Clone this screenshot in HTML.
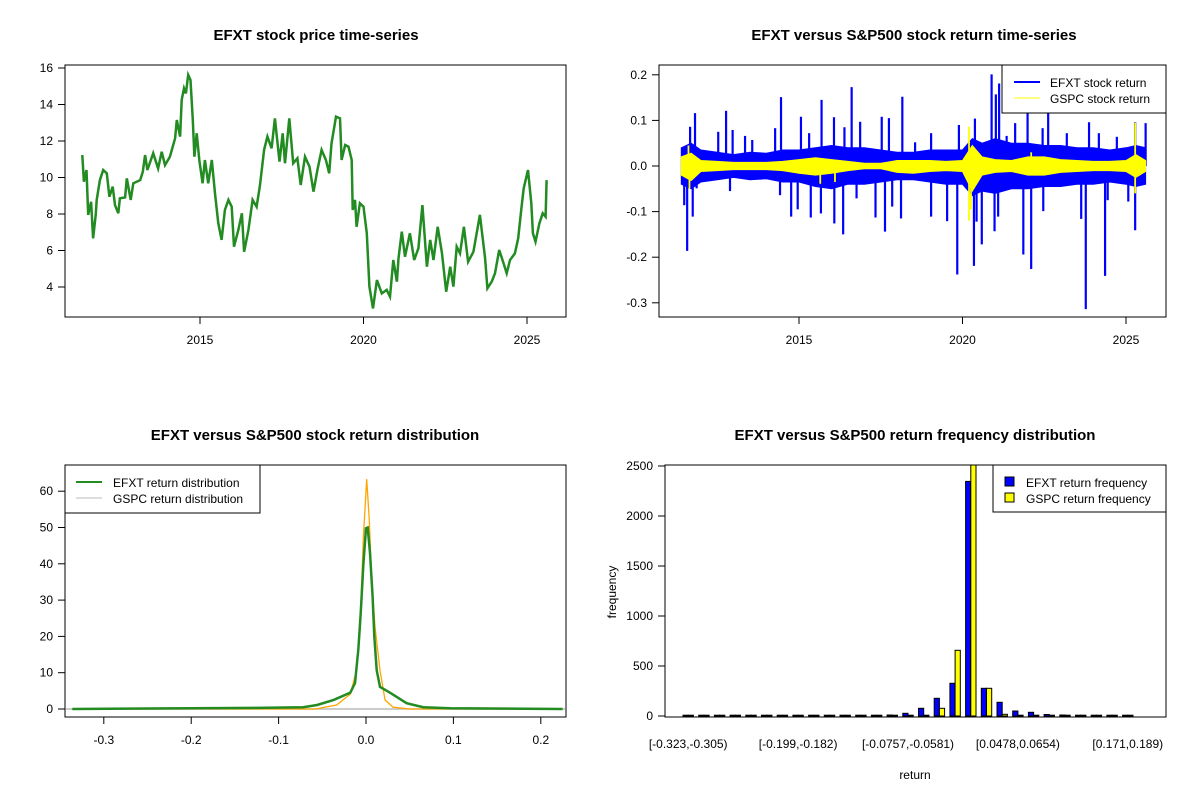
<!DOCTYPE html>
<html><head><meta charset="utf-8"><style>
html,body{margin:0;padding:0;background:#fff;}
svg{display:block;font-family:"Liberation Sans",Arial,sans-serif;}
.t{font-weight:bold;font-size:15px;text-anchor:middle;}
.tk{font-size:12px;}
</style></head><body>
<svg id="c" width="1200" height="800" viewBox="0 0 1200 800">
<rect width="1200" height="800" fill="#fff"/>
<text class="t" x="316" y="40">EFXT stock price time-series</text>
<text class="t" x="914" y="40">EFXT versus S&amp;P500 stock return time-series</text>
<text class="t" x="315" y="440">EFXT versus S&amp;P500 stock return distribution</text>
<text class="t" x="915" y="440">EFXT versus S&amp;P500 return frequency distribution</text>
<text class="tk" x="915" y="779" text-anchor="middle">return</text>
<text class="tk" x="616" y="592" text-anchor="middle" transform="rotate(-90 616 592)">frequency</text>
<g id="p1"></g>
<g id="p2"></g>
<g id="p3"></g>
<g id="p4"></g>
</svg>
<script>
// ---- price data ----
const priceYears=[2011.40,2011.45,2011.53,2011.58,2011.67,2011.73,2011.81,2011.84,2011.94,2012.04,2012.15,2012.23,2012.33,2012.40,2012.50,2012.55,2012.71,2012.76,2012.88,2012.96,2013.17,2013.25,2013.32,2013.39,2013.57,2013.72,2013.83,2013.93,2014.08,2014.24,2014.29,2014.39,2014.44,2014.51,2014.57,2014.64,2014.71,2014.78,2014.83,2014.90,2014.98,2015.08,2015.15,2015.25,2015.36,2015.46,2015.56,2015.66,2015.76,2015.87,2015.97,2016.04,2016.17,2016.28,2016.35,2016.48,2016.61,2016.73,2016.83,2016.96,2017.06,2017.19,2017.29,2017.43,2017.53,2017.60,2017.73,2017.85,2017.98,2018.08,2018.21,2018.35,2018.47,2018.59,2018.72,2018.85,2018.95,2019.02,2019.16,2019.28,2019.33,2019.44,2019.54,2019.64,2019.67,2019.74,2019.79,2019.89,2020.00,2020.10,2020.18,2020.29,2020.41,2020.56,2020.71,2020.81,2020.91,2021.02,2021.07,2021.17,2021.27,2021.42,2021.55,2021.68,2021.80,2021.94,2022.04,2022.14,2022.27,2022.40,2022.53,2022.65,2022.75,2022.85,2022.95,2023.07,2023.20,2023.36,2023.56,2023.72,2023.79,2023.92,2024.02,2024.15,2024.25,2024.38,2024.48,2024.63,2024.73,2024.83,2024.90,2025.03,2025.13,2025.18,2025.26,2025.38,2025.48,2025.57,2025.60];
const priceValues=[11.23,9.77,10.41,7.95,8.67,6.67,7.95,8.77,9.86,10.41,10.23,8.95,9.50,8.49,8.04,8.86,8.91,9.95,8.77,9.68,9.86,10.32,11.23,10.41,11.33,10.50,11.41,10.68,11.14,12.15,13.15,12.24,14.25,14.89,14.61,15.62,15.34,13.15,11.14,12.42,10.96,9.68,10.96,9.68,10.96,9.13,7.49,6.58,8.22,8.77,8.40,6.21,7.12,8.04,5.93,7.12,8.77,8.40,9.50,11.51,12.24,11.60,13.24,10.87,12.42,10.78,13.24,10.78,11.05,9.59,11.14,10.59,9.22,10.41,11.51,10.96,10.23,11.87,13.33,13.24,10.96,11.78,11.69,10.96,8.22,8.77,7.30,8.59,8.40,6.94,4.02,2.83,4.38,3.65,3.84,3.47,5.48,4.29,5.57,7.03,5.66,6.94,5.48,6.12,8.49,5.11,6.58,5.48,7.30,5.84,3.74,5.11,4.02,6.21,5.84,7.30,5.38,5.93,7.95,5.57,3.93,4.29,4.75,6.03,5.48,4.75,5.48,5.84,6.67,8.31,9.41,10.41,8.59,6.94,6.48,7.49,8.04,7.85,9.86];
const priceTicks=[4,6,8,10,12,14,16];
const yearTicks=[2015,2020,2025];
// ---- return spikes ----
const efxtSpikeYears=[2011.67,2011.82,2012.77,2012.53,2012.97,2013.35,2013.57,2014.45,2014.27,2015.06,2015.31,2015.69,2016.07,2016.39,2016.61,2016.87,2017.53,2017.75,2018.16,2018.55,2019.04,2019.89,2020.38,2020.89,2021.02,2021.12,2021.35,2021.61,2021.99,2022.62,2022.45,2023.19,2023.87,2024.17,2024.72,2025.28,2025.60,
2011.58,2011.49,2011.75,2011.87,2012.89,2014.42,2014.76,2014.96,2015.36,2015.67,2016.08,2016.35,2016.76,2017.34,2017.63,2018.12,2017.85,2019.04,2019.53,2019.84,2020.35,2020.59,2020.43,2020.98,2021.09,2021.86,2022.10,2022.47,2023.63,2023.77,2024.36,2024.44,2025.28,2025.07];
const efxtSpikeValues=[0.086,0.116,0.121,0.075,0.079,0.066,0.057,0.151,0.083,0.108,0.072,0.145,0.107,0.085,0.173,0.097,0.108,0.105,0.152,0.052,0.072,0.090,0.104,0.201,0.157,0.181,0.066,0.094,0.116,0.116,0.083,0.072,0.096,0.072,0.064,0.096,0.094,
-0.186,-0.086,-0.111,-0.049,-0.055,-0.064,-0.111,-0.095,-0.113,-0.104,-0.126,-0.150,-0.071,-0.113,-0.144,-0.115,-0.089,-0.111,-0.121,-0.238,-0.219,-0.172,-0.122,-0.143,-0.111,-0.194,-0.226,-0.099,-0.116,-0.314,-0.241,-0.075,-0.141,-0.078];
const bandYears=[2011.4,2011.7,2012,2012.5,2013,2013.5,2014,2014.5,2015,2015.5,2016,2016.5,2017,2017.5,2018,2018.5,2019,2019.5,2020,2020.3,2020.6,2021,2021.5,2022,2022.5,2023,2023.5,2024,2024.5,2025,2025.3,2025.6];
const efxtBandHi=[0.04,0.05,0.035,0.03,0.025,0.03,0.028,0.035,0.035,0.04,0.045,0.04,0.04,0.035,0.03,0.03,0.035,0.035,0.035,0.06,0.05,0.06,0.05,0.05,0.045,0.045,0.04,0.04,0.035,0.04,0.045,0.04];
const efxtBandLo=[-0.04,-0.05,-0.035,-0.03,-0.025,-0.03,-0.028,-0.035,-0.035,-0.045,-0.05,-0.04,-0.04,-0.035,-0.03,-0.03,-0.035,-0.04,-0.04,-0.065,-0.055,-0.06,-0.05,-0.05,-0.045,-0.045,-0.04,-0.04,-0.035,-0.04,-0.045,-0.04];
const gspcBandHi=[0.02,0.028,0.012,0.01,0.008,0.008,0.008,0.01,0.014,0.018,0.014,0.01,0.006,0.006,0.012,0.012,0.012,0.01,0.012,0.045,0.02,0.014,0.012,0.02,0.02,0.014,0.012,0.01,0.01,0.012,0.025,0.012];
const gspcBandLo=[-0.02,-0.032,-0.012,-0.01,-0.008,-0.008,-0.008,-0.01,-0.016,-0.02,-0.016,-0.01,-0.006,-0.006,-0.014,-0.016,-0.012,-0.01,-0.012,-0.055,-0.02,-0.014,-0.012,-0.02,-0.02,-0.014,-0.012,-0.01,-0.01,-0.012,-0.025,-0.012];
const gspcSpikeYears=[2011.62,2011.65,2015.65,2016.1,2020.2,2020.2,2020.26,2022.1,2025.28,2025.28];
const gspcSpikeValues=[0.045,-0.05,-0.039,-0.035,0.086,-0.12,-0.095,0.03,0.095,-0.06];
const returnTicks=[-0.3,-0.2,-0.1,0.0,0.1,0.2];
// ---- density ----
const efxtDensX=[-0.336,-0.125,-0.072,-0.056,-0.037,-0.018,-0.0126,-0.0088,-0.0061,-0.003,0,0.002,0.0046,0.0076,0.0095,0.0122,0.016,0.0275,0.0465,0.0656,0.096,0.225];
const efxtDensY=[0,0.3,0.5,1.1,2.5,4.5,7.1,16.3,26.3,40,49.8,50,43,31,20,10.7,6.1,4.5,1.6,0.5,0.2,0];
const gspcDensX=[-0.336,-0.058,-0.0336,-0.018,-0.0107,-0.0069,-0.003,0.0008,0.0038,0.0065,0.0103,0.016,0.0217,0.031,0.05,0.225];
const gspcDensY=[0,0,1.1,4.1,10.7,21.8,47.5,63.3,52,35.5,22.7,10.7,2.5,0.5,0,0];
const densTicksY=[0,10,20,30,40,50,60];
const densTicksX=[-0.3,-0.2,-0.1,0.0,0.1,0.2];
// ---- histogram ----
const binLabels=["[-0.323,-0.305)","[-0.199,-0.182)","[-0.0757,-0.0581)","[0.0478,0.0654)","[0.171,0.189)"];
const binLabelIdx=[0,7,14,21,28];
const efxtFreq=[1,1,1,1,1,1,3,1,3,5,5,3,5,10,27,77,177,327,2346,277,137,50,37,15,10,8,3,5,2];
const gspcFreq=[0,0,0,0,0,0,0,0,0,0,0,0,0,0,0,3,77,657,2700,277,17,2,0,0,0,0,0,0,0];
const freqTicks=[0,500,1000,1500,2000,2500];

const NS="http://www.w3.org/2000/svg";
function mk(p,tag,at){const e=document.createElementNS(NS,tag);for(const k in at)e.setAttribute(k,at[k]);p.appendChild(e);return e;}
function fmt(v){return (Math.round(v*10)/10).toFixed(1);}

function frame(g,L,R,T,B,name){const r=mk(g,'rect',{x:L,y:T,width:R-L,height:B-T,fill:'none',stroke:'#000','stroke-width':1});

}
function yAxis(g,L,ticks,fy,lab,name){ticks.forEach((v,i)=>{const y=fy(v);mk(g,'line',{x1:L-7,x2:L,y1:y,y2:y,stroke:'#000'});
const t=mk(g,'text',{x:L-12,y:y+4,'text-anchor':'end','class':'tk'});t.textContent=lab(v);

});}
function xAxis(g,B,ticks,fx,lab,name){ticks.forEach(v=>{const x=fx(v);mk(g,'line',{x1:x,x2:x,y1:B,y2:B+7,stroke:'#000'});
const t=mk(g,'text',{x:x,y:B+27,'text-anchor':'middle','class':'tk'});t.textContent=lab(v);

});}

// Panel 1
(function(){const g=document.getElementById('p1');const fx=y=>200+(y-2015)*32.7,fy=v=>287-(v-4)*18.25;
let d='';priceYears.forEach((yr,i)=>{d+=(i?'L':'M')+fx(yr).toFixed(1)+' '+fy(priceValues[i]).toFixed(1);});
const p=mk(g,'path',{d:d,fill:'none',stroke:'#228B22','stroke-width':2.5,'stroke-linejoin':'miter'});


frame(g,65,566,65,317,'price-plot-frame');
yAxis(g,65,priceTicks,fy,v=>String(v),'price-y-tick-label');
xAxis(g,317,yearTicks,fx,v=>String(v),'price-x-tick-label');})();

// Panel 2
(function(){const g=document.getElementById('p2');const fx=y=>799+(y-2015)*32.7,fy=v=>166-v*456;
function band(hi,lo,col,name){let d='';bandYears.forEach((yr,i)=>{d+=(i?'L':'M')+fx(yr).toFixed(1)+' '+fy(hi[i]).toFixed(1);});
for(let i=bandYears.length-1;i>=0;i--){d+='L'+fx(bandYears[i]).toFixed(1)+' '+fy(lo[i]).toFixed(1);}d+='Z';
const p=mk(g,'path',{d:d,fill:col,stroke:col,'stroke-width':1});

}
band(efxtBandHi,efxtBandLo,'#0000FF','efxt-return-band');
efxtSpikeYears.forEach((yr,i)=>{const l=mk(g,'line',{x1:fx(yr),x2:fx(yr),y1:fy(0),y2:fy(efxtSpikeValues[i]),stroke:'#0000FF','stroke-width':2.2});

});
band(gspcBandHi,gspcBandLo,'#FFFF00','gspc-return-band');
gspcSpikeYears.forEach((yr,i)=>{const l=mk(g,'line',{x1:fx(yr),x2:fx(yr),y1:fy(0),y2:fy(gspcSpikeValues[i]),stroke:'#FFFF00','stroke-width':1.8});

});
frame(g,659,1166,65,317,'return-plot-frame');
yAxis(g,659,returnTicks,fy,fmt,'return-y-tick-label');
xAxis(g,317,yearTicks,fx,v=>String(v),'return-x-tick-label');
const lg=mk(g,'g',{});
mk(lg,'rect',{x:1002,y:65,width:164,height:48,fill:'#fff',stroke:'#000'});
mk(lg,'line',{x1:1014,x2:1040,y1:82,y2:82,stroke:'#0000FF','stroke-width':2});
mk(lg,'line',{x1:1014,x2:1040,y1:98,y2:98,stroke:'#FFFF00','stroke-width':1});
let t=mk(lg,'text',{x:1050,y:87,'class':'tk'});t.textContent='EFXT stock return';
t=mk(lg,'text',{x:1050,y:103,'class':'tk'});t.textContent='GSPC stock return';})();

// Panel 3
(function(){const g=document.getElementById('p3');const fx=r=>366+r*874,fy=d=>709-d*3.63;
mk(g,'line',{x1:66,x2:565,y1:fy(0),y2:fy(0),stroke:'#bbb','stroke-width':1.5});
function curve(xs,ys,col,w,name){let d='';xs.forEach((x,i)=>{d+=(i?'L':'M')+Math.max(66,Math.min(565,fx(x))).toFixed(1)+' '+fy(ys[i]).toFixed(1);});
const p=mk(g,'path',{d:d,fill:'none',stroke:col,'stroke-width':w});

}
curve(gspcDensX,gspcDensY,'#FFA500',1.3,'gspc-density-line');
curve(efxtDensX,efxtDensY,'#228B22',2.5,'efxt-density-line');
frame(g,65,566,465,717,'density-plot-frame');
yAxis(g,65,densTicksY,fy,v=>String(v),'density-y-tick-label');
xAxis(g,717,densTicksX,fx,fmt,'density-x-tick-label');
const lg=mk(g,'g',{});
mk(lg,'rect',{x:65,y:465,width:195,height:48,fill:'#fff',stroke:'#000'});
mk(lg,'line',{x1:76,x2:102,y1:482,y2:482,stroke:'#228B22','stroke-width':2});
mk(lg,'line',{x1:76,x2:102,y1:498,y2:498,stroke:'#bbb','stroke-width':1});
let t=mk(lg,'text',{x:113,y:487,'class':'tk'});t.textContent='EFXT return distribution';
t=mk(lg,'text',{x:113,y:503,'class':'tk'});t.textContent='GSPC return distribution';})();

// Panel 4
(function(){const g=document.getElementById('p4');const gx=k=>683+k*15.7,fy=f=>716-f*0.1,bw=5.2;
mk(mk(g,'clipPath',{id:'hc'}),'rect',{x:665,y:465,width:501,height:252});
const bars=mk(g,'g',{'clip-path':'url(#hc)'});
efxtFreq.forEach((f,k)=>{const y=fy(f);const r=mk(bars,'rect',{x:gx(k),y:Math.min(y,fy(0)-0.8),width:bw,height:Math.max(fy(0)-y,0.8),fill:'#0000FF',stroke:'#000','stroke-width':1});

});
gspcFreq.forEach((f,k)=>{const y=fy(f);const r=mk(bars,'rect',{x:gx(k)+bw,y:Math.min(y,fy(0)-0.8),width:bw,height:Math.max(fy(0)-y,0.8),fill:'#FFFF00',stroke:'#000','stroke-width':1});

});
frame(g,665,1166,465,717,'histogram-plot-frame');
yAxis(g,665,freqTicks,fy,v=>String(v),'histogram-y-tick-label');
binLabelIdx.forEach((k,i)=>{const t=mk(g,'text',{x:gx(k)+bw,y:748,'text-anchor':'middle','class':'tk'});t.textContent=binLabels[i];

});
const lg=mk(g,'g',{});
mk(lg,'rect',{x:993,y:465,width:173,height:47,fill:'#fff',stroke:'#000'});
mk(lg,'rect',{x:1005,y:477,width:9,height:9,fill:'#0000FF',stroke:'#000'});
mk(lg,'rect',{x:1005,y:493,width:9,height:9,fill:'#FFFF00',stroke:'#000'});
let t=mk(lg,'text',{x:1026,y:487,'class':'tk'});t.textContent='EFXT return frequency';
t=mk(lg,'text',{x:1026,y:503,'class':'tk'});t.textContent='GSPC return frequency';})();
</script>
</body></html>
